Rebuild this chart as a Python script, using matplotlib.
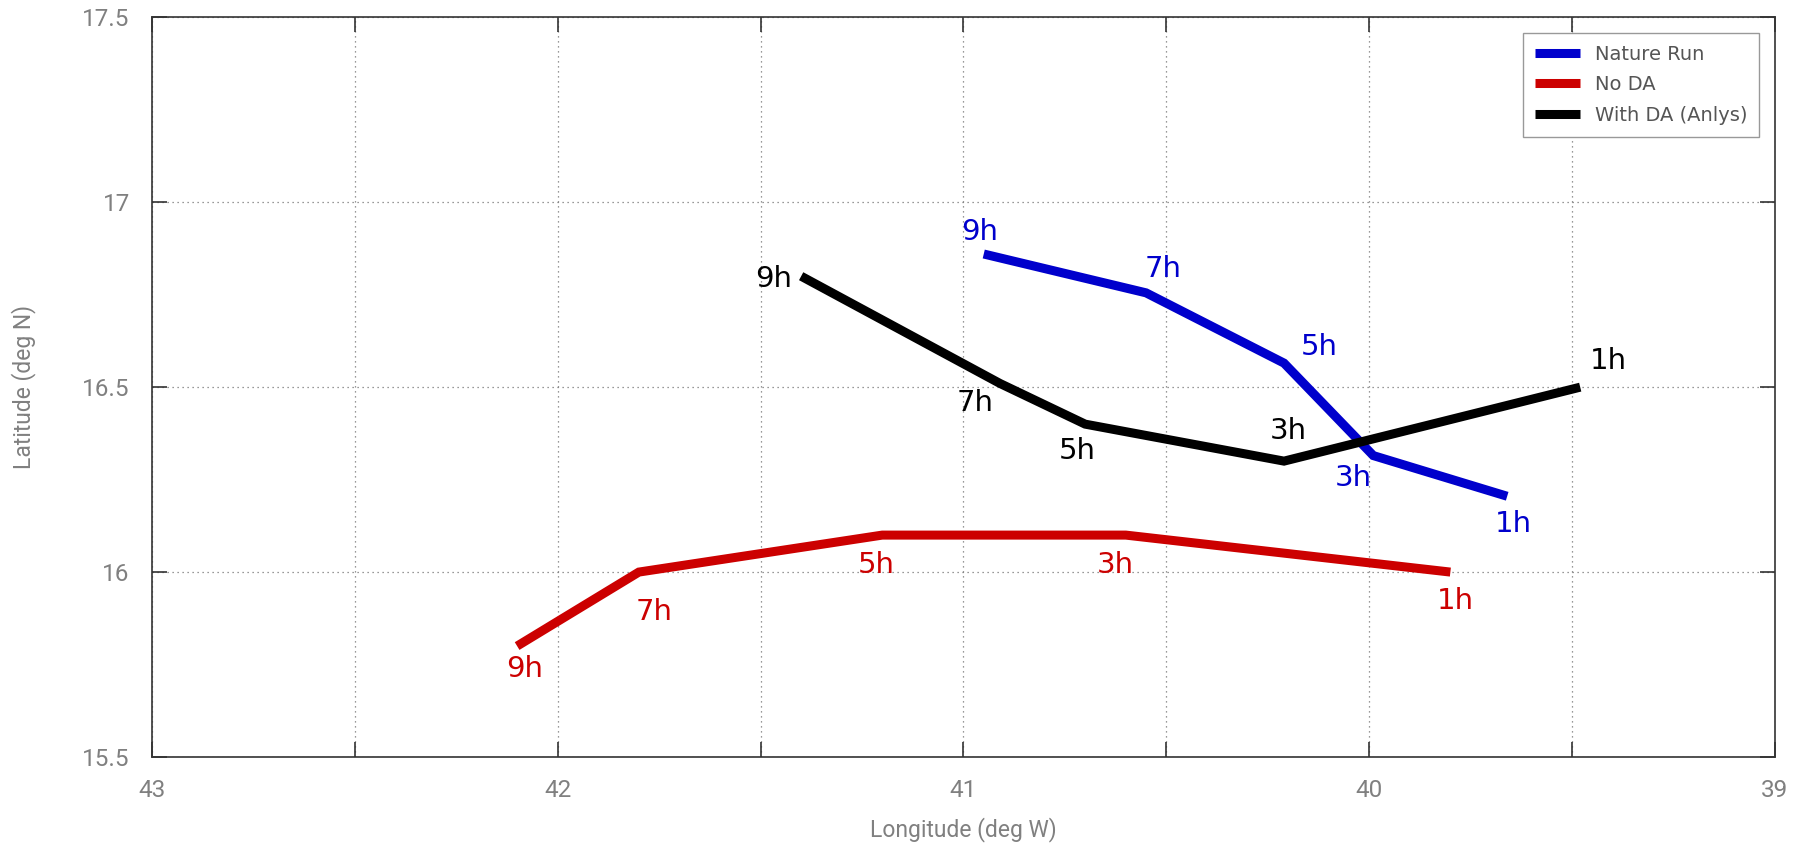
import matplotlib
matplotlib.use("Agg")
import matplotlib.pyplot as plt
import numpy as np

# track points (lon in deg W, lat in deg N), ordered 9h -> 1h
hours = ["9h", "7h", "5h", "3h", "1h"]

nature_lon = [40.95, 40.55, 40.21, 39.99, 39.66]
nature_lat = [16.86, 16.755, 16.565, 16.315, 16.205]

noda_lon = [42.10, 41.80, 41.20, 40.60, 39.80]
noda_lat = [15.80, 16.00, 16.10, 16.10, 16.00]

withda_lon = [41.40, 40.91, 40.70, 40.21, 39.48]
withda_lat = [16.80, 16.51, 16.40, 16.30, 16.50]

# label offsets in pixels (dx, dy) for each hour label
nature_off = [(-4, 22), (17, 24), (35, 16), (-20, -22), (6, -28)]
noda_off = [(8, -23), (15, -40), (-6, -30), (-10, -30), (5, -29)]
withda_off = [(-28, -3), (-25, -20), (-8, -27), (4, 30), (28, 26)]

BLUE = "#0000cc"
RED = "#cc0000"
BLACK = "#000000"
GRAY = "#808080"

fig = plt.figure(figsize=(17.98, 8.48), dpi=100)
ax = fig.add_axes([0.0845, 0.1073, 0.9872 - 0.0845, 0.9796 - 0.1073])

series = [
    ("Nature Run", nature_lon, nature_lat, nature_off, BLUE),
    ("No DA", noda_lon, noda_lat, noda_off, RED),
    ("With DA (Anlys)", withda_lon, withda_lat, withda_off, BLACK),
]
for name, lon, lat, off, col in series:
    ax.plot(lon, lat, color=col, lw=6.5, solid_joinstyle="miter",
            solid_capstyle="butt", label=name, zorder=3)
    for h, x, y, (dx, dy) in zip(hours, lon, lat, off):
        ax.annotate(h, (x, y), xytext=(dx, dy), textcoords="offset pixels",
                    ha="center", va="center", color=col, fontsize=21,
                    family="DejaVu Sans", zorder=4)

ax.set_xlim(43, 39)
ax.set_ylim(15.5, 17.5)
xt = np.arange(39, 43.01, 0.5)
ax.set_xticks(xt)
ax.set_xticklabels([f"{v:g}" if v == int(v) else "" for v in xt])
yt = np.arange(15.5, 17.51, 0.5)
ax.set_yticks(yt)
ax.set_yticklabels([f"{v:g}" for v in yt])

ax.tick_params(direction="in", length=11, width=1.2, top=True, right=True,
               colors="#333333", labelcolor=GRAY, labelsize=17.5)
ax.tick_params(axis="x", pad=16)
ax.tick_params(axis="y", pad=16)
for lab in ax.get_xticklabels() + ax.get_yticklabels():
    lab.set_family("Roboto")

ax.grid(True, color="#777777", linestyle=(0, (1, 3)), lw=0.9)
for s in ax.spines.values():
    s.set_color("#333333")
    s.set_linewidth(1.2)

ax.set_xlabel("Longitude (deg W)", fontsize=16.5, color=GRAY, family="Roboto",
              labelpad=11)
ax.set_ylabel("Latitude (deg N)", fontsize=16.5, color=GRAY, family="Roboto",
              labelpad=33)

leg = ax.legend(loc="upper right", fontsize=14, handlelength=2.3,
                borderaxespad=0.8, fancybox=False, framealpha=1,
                edgecolor="#999999", labelspacing=0.6, borderpad=0.6)
for t in leg.get_texts():
    t.set_color("#555555")
for l in leg.get_lines():
    l.set_linewidth(6.5)

fig.savefig("out.png", dpi=100)
